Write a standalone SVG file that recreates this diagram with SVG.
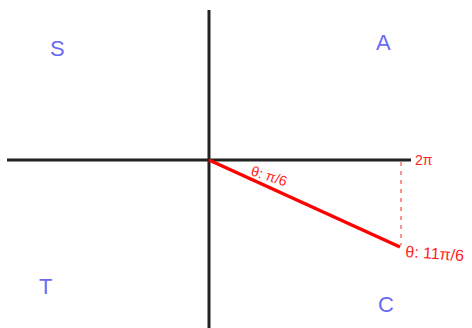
<svg xmlns="http://www.w3.org/2000/svg" width="472" height="328" viewBox="0 0 472 328">
<style>
.axis{stroke:#222;stroke-width:3;fill:none;stroke-linecap:butt}
.quad{font-family:"Liberation Sans",sans-serif;font-size:22px;fill:#6a6af5}
.red{font-family:"Liberation Sans",sans-serif;fill:#f22}
</style>
<rect width="472" height="328" fill="#fff"/>
<g id="connectors">
<line class="axis" x1="209" y1="10" x2="209" y2="328"/>
<line class="axis" x1="7" y1="160" x2="411" y2="160"/>
<line x1="209" y1="160" x2="400" y2="247" stroke="#f00" stroke-width="3.5"/>
<line x1="401" y1="162" x2="401" y2="245" stroke="#f44" stroke-width="1.2" stroke-dasharray="4,5"/>
</g>
<g id="S"><text class="quad" x="50" y="56">S</text></g>
<g id="A"><text class="quad" x="376" y="50">A</text></g>
<g id="T"><text class="quad" x="39" y="294">T</text></g>
<g id="C"><text class="quad" x="378" y="312">C</text></g>
<g id="label-pi6"><text class="red" font-size="14" transform="translate(250,175) rotate(18)">θ: π/6</text></g>
<g id="label-2pi"><text class="red" font-size="14" x="415" y="165">2π</text></g>
<g id="label-11pi6"><text class="red" font-size="16" transform="translate(405,257) rotate(4)">θ: 11π/6</text></g>
</svg>
